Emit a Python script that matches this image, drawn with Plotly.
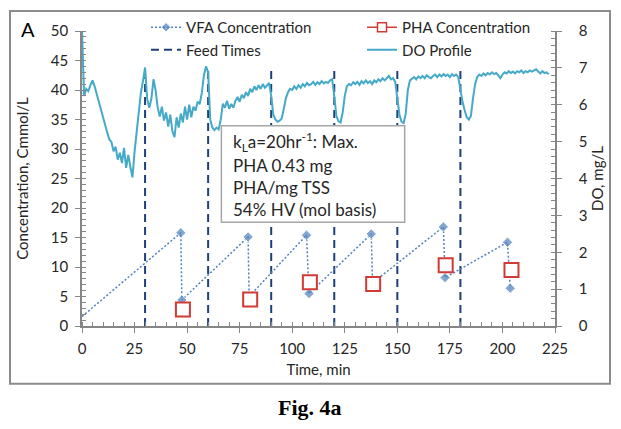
import plotly.graph_objects as go

# ---------------- data ----------------
vfa_time = [0, 47, 47.5, 79, 79.5, 106.8, 108, 137.6, 138.2, 171.9, 172.7, 202.4, 203.7]
vfa_conc = [1.6, 15.8, 4.4, 15.1, 5.0, 15.4, 5.5, 15.6, 7.3, 16.8, 8.2, 14.2, 6.4]

pha_time = [48, 80, 108.4, 138.5, 173, 204.3]
pha_conc = [2.8, 4.5, 7.4, 7.1, 10.3, 9.5]

feed_times = [30, 60, 90, 120, 150, 180]
feed_line_top = 44

# DO profile (mg/L), one reading per minute from t = 0 to 222 min
do_mgL = [
    8.00, 6.24, 6.43, 6.37, 6.53, 6.66, 6.50, 6.29, 6.05, 5.82,
    5.60, 5.42, 5.25, 5.06, 4.99, 4.74, 4.86, 4.51, 4.70, 4.42,
    4.83, 4.29, 4.64, 4.32, 4.03, 4.72, 5.28, 5.92, 6.32, 6.64,
    7.01, 6.16, 5.92, 6.16, 6.69, 6.40, 5.92, 5.68, 5.95, 5.57,
    5.79, 5.41, 5.73, 5.28, 5.12, 5.66, 5.38, 5.76, 5.52, 5.95,
    5.60, 6.00, 5.66, 5.95, 5.84, 6.08, 6.02, 6.32, 6.80, 7.04,
    6.88, 5.60, 5.38, 5.31, 5.38, 5.33, 5.60, 6.03, 5.92, 6.11,
    5.89, 6.02, 5.92, 6.11, 6.21, 6.08, 6.27, 6.18, 6.34, 6.24,
    6.43, 6.34, 6.50, 6.40, 6.53, 6.43, 6.56, 6.46, 6.53, 6.59,
    6.24, 5.73, 5.60, 5.54, 5.57, 5.63, 5.89, 6.18, 6.34, 6.43,
    6.40, 6.50, 6.43, 6.53, 6.46, 6.56, 6.50, 6.59, 6.53, 6.56,
    6.62, 6.54, 6.61, 6.56, 6.64, 6.58, 6.62, 6.59, 6.66, 6.69,
    6.24, 5.70, 5.55, 5.52, 5.79, 6.24, 6.50, 6.56, 6.53, 6.61,
    6.56, 6.62, 6.54, 6.64, 6.58, 6.66, 6.59, 6.64, 6.56, 6.66,
    6.61, 6.69, 6.64, 6.72, 6.66, 6.72, 6.78, 6.69, 6.72, 6.62,
    6.24, 5.73, 5.54, 5.50, 5.76, 6.40, 6.66, 6.70, 6.75, 6.69,
    6.77, 6.72, 6.78, 6.72, 6.80, 6.75, 6.72, 6.78, 6.82, 6.75,
    6.82, 6.77, 6.83, 6.78, 6.82, 6.75, 6.83, 6.78, 6.82, 6.75,
    6.40, 6.08, 5.86, 5.66, 5.60, 5.70, 6.18, 6.56, 6.75, 6.82,
    6.78, 6.85, 6.80, 6.86, 6.82, 6.88, 6.83, 6.86, 6.80, 6.72,
    6.82, 6.88, 6.85, 6.91, 6.86, 6.90, 6.85, 6.91, 6.88, 6.93,
    6.86, 6.91, 6.88, 6.93, 6.90, 6.94, 6.96, 6.90, 6.85, 6.91,
    6.86, 6.88, 6.83,
]
do_time = list(range(len(do_mgL)))

x_ticks = [0, 25, 50, 75, 100, 125, 150, 175, 200, 225]
box_lines = ["k<sub>L</sub>a=20hr<sup>-1</sup>: Max.", "PHA 0.43 mg",
             "PHA/mg TSS", "54% HV (mol basis)"]

# ---------------- styling ----------------
FONT = "Lato"
AX = "#868686"
TXT = "#262626"
C_VFA = "#4F81BD"
C_PHA = "#D23A35"
C_FEED = "#1F3F78"
C_DO = "#45A9C8"

# plot area in px
L, R, T, B = 82, 66, 30, 103
W, H = 621, 429
PW, PH = W - L - R, H - T - B


def px_x(px):
    return (px - L) / PW


def px_y(py):
    return (H - B - py) / PH


# build segment arrays
feed_x, feed_y = [], []
for t in feed_times:
    feed_x += [t, t, None]
    feed_y += [0, feed_line_top, None]

vfa_sizes = [0] + [8] * (len(vfa_time) - 1)

fig = go.Figure()

fig.add_trace(go.Scatter(
    x=do_time, y=do_mgL, yaxis="y2", mode="lines", name="DO Profile",
    line=dict(color=C_DO, width=2), legend="legend2", legendrank=2))

fig.add_trace(go.Scatter(
    x=feed_x, y=feed_y, mode="lines", name="Feed Times",
    line=dict(color=C_FEED, width=2, dash="8px,5px"), legend="legend",
    legendrank=2))

fig.add_trace(go.Scatter(
    x=vfa_time, y=vfa_conc, mode="lines+markers", name="VFA Concentration",
    line=dict(color=C_VFA, width=1.5, dash="2px,2px"),
    marker=dict(symbol="diamond", size=vfa_sizes, color=C_VFA),
    legend="legend", legendrank=1))

# PHA samples (markers only in the plot)
fig.add_trace(go.Scatter(
    x=pha_time, y=pha_conc, mode="markers", name="PHA Concentration",
    marker=dict(symbol="square", size=14, color="white",
                line=dict(color=C_PHA, width=2)),
    showlegend=False))
# legend entry for PHA (line + small square)
fig.add_trace(go.Scatter(
    x=[None], y=[None], mode="lines+markers", name="PHA Concentration",
    line=dict(color=C_PHA, width=1.5),
    marker=dict(symbol="square", size=9, color="white",
                line=dict(color=C_PHA, width=1.5)),
    legend="legend2", legendrank=1))

axis_common = dict(
    showgrid=False, zeroline=False, showline=True, linecolor=AX, linewidth=1.5,
    ticks="outside", ticklen=5, tickcolor=AX, tickwidth=1.3,
    tickfont=dict(family=FONT, size=15, color=TXT),
)

fig.update_layout(
    width=W, height=H,
    margin=dict(l=L, r=R, t=T, b=B),
    paper_bgcolor="white", plot_bgcolor="white",
    font=dict(family=FONT, color=TXT),
    xaxis=dict(
        range=[0, 225], tickvals=x_ticks, ticklabelstandoff=3,
        minor=dict(dtick=5, ticks="inside", ticklen=4, tickcolor=AX, tickwidth=1),
        title=dict(text="Time, min", font=dict(family=FONT, size=15, color=TXT), standoff=9),
        **axis_common),
    yaxis=dict(
        range=[0, 50], dtick=5, ticklabelstandoff=4,
        minor=dict(dtick=1, ticks="inside", ticklen=4, tickcolor=AX, tickwidth=1),
        title=dict(text="Concentration, Cmmol/L", font=dict(family=FONT, size=15, color=TXT), standoff=19),
        **axis_common),
    yaxis2=dict(
        range=[0, 8], dtick=1, overlaying="y", side="right", ticklabelstandoff=14,
        minor=dict(dtick=0.2, ticks="inside", ticklen=4, tickcolor=AX, tickwidth=1),
        title=dict(text="DO, mg/L", font=dict(family=FONT, size=15, color=TXT), standoff=5),
        **axis_common),
    legend=dict(x=px_x(146), y=px_y(11), xanchor="left", yanchor="top",
                bgcolor="rgba(0,0,0,0)", font=dict(family=FONT, size=15, color=TXT),
                tracegroupgap=0),
    legend2=dict(x=px_x(362), y=px_y(11), xanchor="left", yanchor="top",
                 bgcolor="rgba(0,0,0,0)", font=dict(family=FONT, size=15, color=TXT),
                 tracegroupgap=0),
)

shapes = [
    # info box
    dict(type="rect", xref="x", yref="y", x0=66.3, x1=153.5, y0=17.6, y1=33.95,
         line=dict(color="#A6A6A6", width=1.5), fillcolor="white", layer="above"),
    # outer frame
    dict(type="rect", xref="paper", yref="paper",
         x0=px_x(10), x1=px_x(610), y0=px_y(384), y1=px_y(10),
         line=dict(color="#8C8C8C", width=2), fillcolor="rgba(0,0,0,0)", layer="above"),
]
fig.update_layout(shapes=shapes)

box_y = [31.13, 27.2, 23.43, 19.71]
annotations = []
for txt, yy in zip(box_lines, box_y):
    annotations.append(dict(x=71, y=yy, xref="x", yref="y", text=txt, showarrow=False,
                            xanchor="left", yanchor="middle",
                            font=dict(family=FONT, size=17, color=TXT)))
annotations.append(dict(x=px_x(19), y=px_y(28), xref="paper", yref="paper", text="A",
                        showarrow=False, xanchor="left", yanchor="middle",
                        font=dict(family=FONT, size=20, color="black")))
annotations.append(dict(x=px_x(310), y=px_y(408), xref="paper", yref="paper",
                        text="<b>Fig. 4a</b>", showarrow=False, xanchor="center",
                        yanchor="middle",
                        font=dict(family="Liberation Serif", size=22, color="black")))
fig.update_layout(annotations=annotations)

fig.write_html("out.html", config={"displayModeBar": False},
               post_script="document.body.style.margin='0';")
